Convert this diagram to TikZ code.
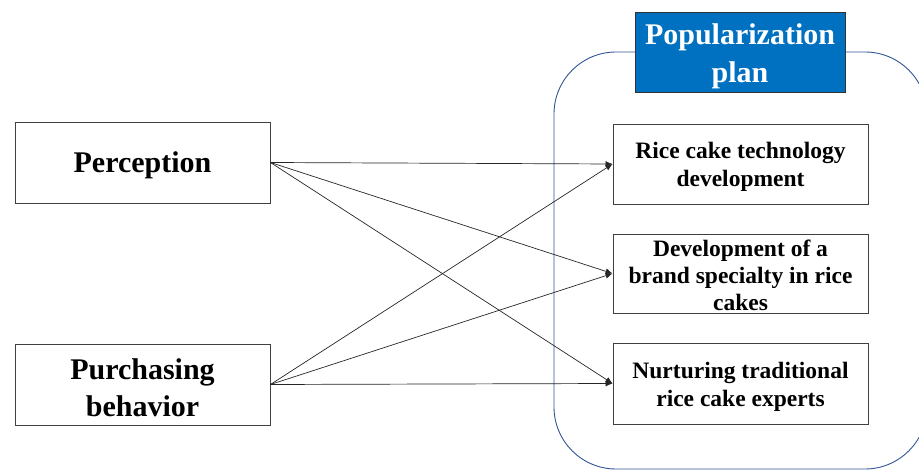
\documentclass[tikz,border=0pt]{standalone}
\usepackage{fontspec}
\setmainfont{Liberation Serif}
\usetikzlibrary{arrows.meta}
\definecolor{framecol}{HTML}{2F5597}
\definecolor{titlefill}{HTML}{0070C0}
\definecolor{boxline}{HTML}{404040}
\begin{document}
\begin{tikzpicture}[x=1pt,y=-1pt,
  leftbox/.style={draw=boxline,line width=0.9pt,minimum width=255pt,minimum height=81pt,inner sep=0pt},
  rightbox/.style={draw=boxline,line width=0.9pt,minimum width=255pt,minimum height=80pt,inner sep=0pt},
  lefttext/.style={inner sep=0pt,font=\fontsize{30}{37}\selectfont\bfseries,align=center},
  righttext/.style={inner sep=0pt,font=\fontsize{23.5}{28}\selectfont\bfseries,align=center},
  titlebox/.style={draw=black!80,line width=0.9pt,fill=titlefill,minimum width=210pt,minimum height=80pt,inner sep=0pt},
  titletext/.style={inner sep=0pt,text=white,font=\fontsize{30}{38}\selectfont\bfseries,align=center},
  conn/.style={draw=black!85,line width=0.7pt,-{Latex[length=7pt,width=6pt]}}]
\useasboundingbox (0,0) rectangle (919,470);
\draw[framecol,line width=0.9pt,rounded corners=62pt] (554,52) rectangle (927,469);
\node[titlebox] (title) at (740,52) {};
\node[titletext] (title-t) at ([yshift=-4pt]title.center) {Popularization\\plan};
\node[leftbox] (perc) at (142.5,162.5) {};
\node[lefttext] (perc-t) at ([yshift=-3pt]perc.center) {Perception};
\node[leftbox] (purch) at (142.5,384.5) {};
\node[lefttext] (purch-t) at ([yshift=-3pt]purch.center) {Purchasing\\behavior};
\node[rightbox] (r1) at (740.5,164) {};
\node[righttext] (r1-t) at ([yshift=-3pt]r1.center) {Rice cake technology\\development};
\node[rightbox,minimum height=79pt] (r2) at (740.5,273.5) {};
\node[righttext,font=\fontsize{23.5}{27}\selectfont\bfseries] (r2-t) at ([yshift=-2pt]r2.center) {Development of a\\brand specialty in rice\\cakes};
\node[rightbox,minimum height=81pt] (r3) at (740.5,383.5) {};
\node[righttext] (r3-t) at ([yshift=-3pt]r3.center) {Nurturing traditional\\rice cake experts};
\draw[conn] (perc.east) -- (r1.west);
\draw[conn] (perc.east) -- (r2.west);
\draw[conn] (perc.east) -- (r3.west);
\draw[conn] (purch.east) -- (r1.west);
\draw[conn] (purch.east) -- (r2.west);
\draw[conn] (purch.east) -- (r3.west);
\end{tikzpicture}
\end{document}
